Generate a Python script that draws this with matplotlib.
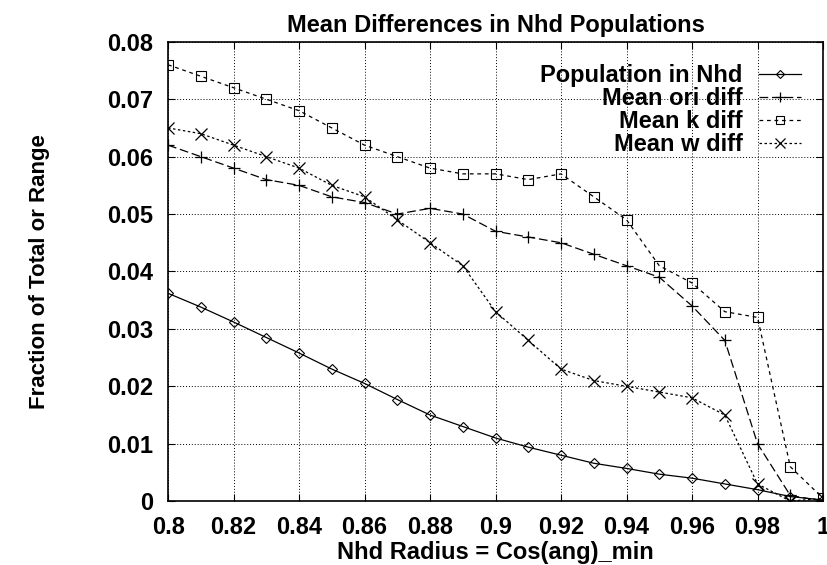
import matplotlib
matplotlib.use("Agg")
import matplotlib.pyplot as plt
import numpy as np

plt.rcParams['font.family'] = ['Liberation Sans', 'DejaVu Sans']

x = [0.80, 0.81, 0.82, 0.83, 0.84, 0.85, 0.86, 0.87, 0.88, 0.89, 0.90,
     0.91, 0.92, 0.93, 0.94, 0.95, 0.96, 0.97, 0.98, 0.99, 1.00]

population = [0.0362, 0.0338, 0.0312, 0.0285, 0.0258, 0.0230, 0.0205, 0.0177,
              0.0150, 0.0130, 0.0110, 0.0094, 0.0080, 0.0066, 0.0057, 0.0047,
              0.0040, 0.0030, 0.0020, 0.0008, 0.0002]
ori_diff = [0.062, 0.060, 0.058, 0.056, 0.055, 0.053, 0.052, 0.050, 0.051,
            0.050, 0.047, 0.046, 0.045, 0.043, 0.041, 0.039, 0.034, 0.028,
            0.010, 0.001, 0.000]
k_diff = [0.076, 0.074, 0.072, 0.070, 0.068, 0.065, 0.062, 0.060, 0.058,
          0.057, 0.057, 0.056, 0.057, 0.053, 0.049, 0.041, 0.038, 0.033,
          0.032, 0.006, 0.0005]
w_diff = [0.065, 0.064, 0.062, 0.060, 0.058, 0.055, 0.053, 0.049, 0.045,
          0.041, 0.033, 0.028, 0.023, 0.021, 0.020, 0.019, 0.018, 0.015,
          0.003, 0.000, 0.0005]

labels = ["Population in Nhd", "Mean ori diff", "Mean k diff", "Mean w diff"]
xticks = [0.8, 0.82, 0.84, 0.86, 0.88, 0.9, 0.92, 0.94, 0.96, 0.98, 1.0]
xticklabels = ["0.8", "0.82", "0.84", "0.86", "0.88", "0.9", "0.92", "0.94", "0.96", "0.98", "1"]
yticks = [0, 0.01, 0.02, 0.03, 0.04, 0.05, 0.06, 0.07, 0.08]
yticklabels = ["0", "0.01", "0.02", "0.03", "0.04", "0.05", "0.06", "0.07", "0.08"]

fig = plt.figure(figsize=(8.28, 5.65), dpi=100)
ax = fig.add_axes([0.203, 0.113, 0.791, 0.813])

lw = 0.9
ax.plot(x, population, color='black', lw=lw, ls='-', marker='D', ms=5,
        mfc='none', mec='black', mew=0.8, label=labels[0])
ax.plot(x, ori_diff, color='black', lw=lw, ls=(0, (7, 3)), marker='+', ms=8,
        mew=0.9, label=labels[1])
ax.plot(x, k_diff, color='black', lw=lw, ls=(0, (3, 3)), marker='s', ms=7,
        mfc='none', mec='black', mew=0.8, label=labels[2])
ax.plot(x, w_diff, color='black', lw=lw, ls=(0, (2, 2)), marker='x', ms=8,
        mew=0.9, label=labels[3])

ax.set_xlim(0.8, 1.0)
ax.set_ylim(0, 0.08)
ax.set_xticks(xticks)
ax.set_xticklabels(xticklabels)
ax.set_yticks(yticks)
ax.set_yticklabels(yticklabels)
ax.tick_params(axis='both', direction='in', length=5, width=0.8,
               top=True, right=True, labelsize=17, pad=11)
for lab in ax.get_xticklabels() + ax.get_yticklabels():
    lab.set_fontweight('bold')
ax.grid(True, color='black', ls=(0, (1, 2)), lw=0.7)
for s in ax.spines.values():
    s.set_linewidth(1.2)

ax.set_title("Mean Differences in Nhd Populations", fontsize=17,
             fontweight='bold', pad=7)
ax.set_xlabel("Nhd Radius = Cos(ang)_min", fontsize=17, fontweight='bold',
              labelpad=1)
fig.text(0.048, 0.52, "Fraction of Total or Range", rotation=90,
         fontsize=16, fontweight='bold', ha='center', va='center')

leg = ax.legend(loc='upper right', frameon=False, markerfirst=False,
                prop={'size': 17, 'weight': 'bold'}, handlelength=1.8,
                labelspacing=0.0, borderaxespad=0.53, handletextpad=0.68,
                markerscale=0.85)
for t in leg.get_texts():
    t.set_ha('right')
leg._legend_box.align = 'right'

fig.savefig("out.png", dpi=100)
